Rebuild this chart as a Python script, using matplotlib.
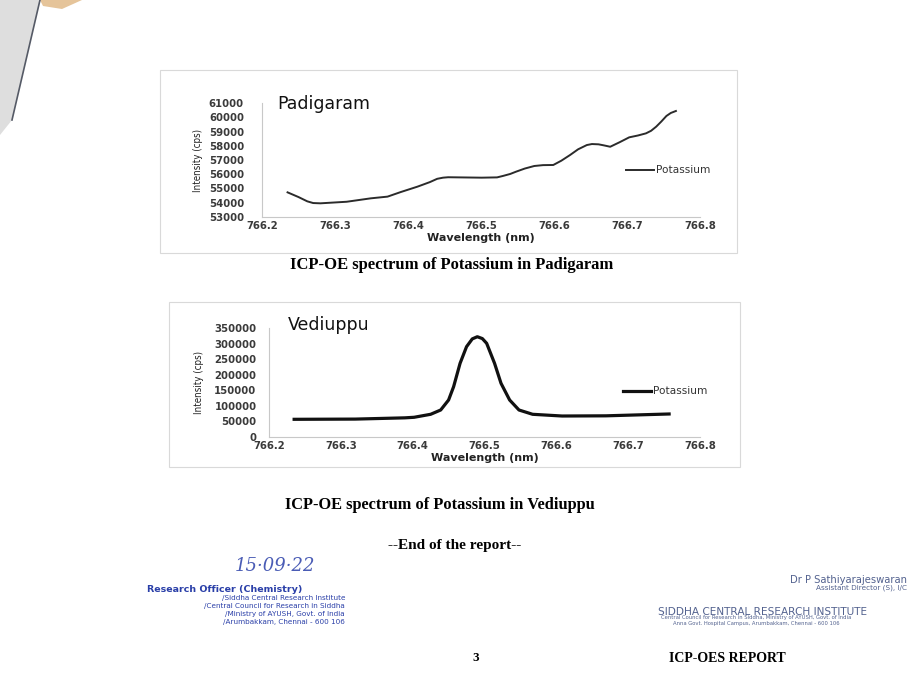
import matplotlib
matplotlib.use('Agg')
import matplotlib.pyplot as plt
from matplotlib.patches import Rectangle, Polygon

# Padigaram spectrum
wl_padigaram = [766.235, 766.25, 766.262, 766.27, 766.28, 766.316, 766.349, 766.372,
                766.39, 766.413, 766.43, 766.44, 766.448, 766.455, 766.501, 766.522,
                766.53, 766.54, 766.548, 766.56, 766.573, 766.585, 766.599, 766.61,
                766.622, 766.633, 766.645, 766.652, 766.661, 766.668, 766.677, 766.69,
                766.703, 766.715, 766.726, 766.733, 766.74, 766.747, 766.754, 766.76,
                766.767]
int_padigaram = [54730, 54400, 54100, 53980, 53960, 54070, 54310, 54430,
                 54750, 55130, 55450, 55680, 55760, 55790, 55760, 55780,
                 55880, 56020, 56180, 56400, 56580, 56640, 56650, 56950,
                 57350, 57750, 58050, 58120, 58100, 58030, 57930, 58250,
                 58590, 58720, 58870, 59050, 59340, 59700, 60090, 60300,
                 60440]

# Vediuppu spectrum
wl_vediuppu = [766.235, 766.32, 766.389, 766.402, 766.425, 766.439, 766.45, 766.457,
               766.466, 766.475, 766.483, 766.49, 766.497, 766.503, 766.514, 766.523,
               766.535, 766.548, 766.567, 766.608, 766.669, 766.757]
int_vediuppu = [56800, 57500, 61500, 63300, 72900, 86700, 118800, 161500,
                236600, 290000, 315000, 322000, 316000, 300800, 236600, 172400,
                118800, 86700, 72900, 67400, 68000, 73900]

x_ticks = [766.2, 766.3, 766.4, 766.5, 766.6, 766.7, 766.8]
y_ticks_padigaram = [53000, 54000, 55000, 56000, 57000, 58000, 59000, 60000, 61000]
y_ticks_vediuppu = [0, 50000, 100000, 150000, 200000, 250000, 300000, 350000]

W, H = 909, 693
fig = plt.figure(figsize=(W / 100, H / 100), dpi=100)
fig.patch.set_facecolor('white')


def box(x0, y0, x1, y1):
    # pixel box (top-left origin) -> figure fraction
    return [x0 / W, 1 - y1 / H, (x1 - x0) / W, (y1 - y0) / H]


def frame(x0, y0, x1, y1):
    fig.patches.append(Rectangle((x0 / W, 1 - y1 / H), (x1 - x0) / W, (y1 - y0) / H,
                                 transform=fig.transFigure, fill=False, ec='#d9d9d9', lw=0.8))


def style_axes(ax, yticks, ylim, ypad, label_x):
    ax.set_xlim(766.2, 766.8)
    ax.set_ylim(*ylim)
    ax.set_xticks(x_ticks)
    ax.set_xticklabels([f'{t:.1f}' for t in x_ticks])
    ax.set_yticks(yticks)
    ax.tick_params(length=0, labelsize=7.3, colors='#3a3a3a')
    ax.tick_params(axis='y', pad=ypad)
    ax.tick_params(axis='x', pad=3)
    for lab in ax.get_xticklabels() + ax.get_yticklabels():
        lab.set_fontweight('bold')
    for s in ['top', 'right']:
        ax.spines[s].set_visible(False)
    for s in ['left', 'bottom']:
        ax.spines[s].set_color('#c8c8c8')
        ax.spines[s].set_linewidth(0.8)
    ax.set_xlabel('Wavelength (nm)', fontsize=8, fontweight='bold', color='#222222', labelpad=1)
    ax.set_ylabel('Intensity (cps)', fontsize=7, color='#222222', fontstretch='condensed')
    ax.yaxis.set_label_coords(label_x, 0.5)
    ax.set_facecolor('none')


# chart area frames
frame(160, 70, 737, 253)
frame(169, 302, 740, 467)

# scanner shadow at the left edge
fig.patches.append(Polygon([(0, 1), (40 / W, 1), (12 / W, 1 - 120 / H), (0, 1 - 135 / H)],
                           closed=True, transform=fig.transFigure, fc='#dedede', ec='none'))
fig.lines.append(plt.Line2D([40 / W, 12 / W], [1, 1 - 120 / H], transform=fig.transFigure,
                            color='#555a66', lw=1.2))
fig.patches.append(Polygon([(40 / W, 1), (82 / W, 1), (62 / W, 1 - 9 / H), (43 / W, 1 - 6 / H)],
                           closed=True, transform=fig.transFigure, fc='#e5c49a', ec='none'))

ax1 = fig.add_axes(box(262, 103, 700, 217))
ax1.plot(wl_padigaram, int_padigaram, color='#2b2b2b', lw=1.4, label='Potassium',
         solid_joinstyle='round')
style_axes(ax1, y_ticks_padigaram, (53000, 61000), 13, -0.135)
ax1.legend(loc='center left', bbox_to_anchor=(0.81, 0.41), frameon=False,
           prop={'size': 7.6}, handlelength=2.6, handletextpad=0.25,
           labelcolor='#333333')
fig.text(277 / W, 1 - 104 / H, 'Padigaram', fontsize=12.5, color='#111111', va='center')

ax2 = fig.add_axes(box(269, 328, 700, 437))
ax2.plot(wl_vediuppu, int_vediuppu, color='#111111', lw=2.3, label='Potassium',
         solid_joinstyle='round')
style_axes(ax2, y_ticks_vediuppu, (0, 350000), 9, -0.15)
ax2.legend(loc='center left', bbox_to_anchor=(0.8, 0.42), frameon=False,
           prop={'size': 7.6}, handlelength=2.6, handletextpad=0.25,
           labelcolor='#333333')
fig.text(288 / W, 1 - 325 / H, 'Vediuppu', fontsize=12.5, color='#111111', va='center')

serif = 'Liberation Serif'
fig.text(452 / W, 1 - 265 / H, 'ICP-OE spectrum of Potassium in Padigaram',
         family=serif, fontweight='bold', fontsize=12, ha='center', va='center')
fig.text(440 / W, 1 - 505 / H, 'ICP-OE spectrum of Potassium in Vediuppu',
         family=serif, fontweight='bold', fontsize=11.8, ha='center', va='center')
fig.text(455 / W, 1 - 546 / H, '--End of the report--',
         family=serif, fontweight='bold', fontsize=11, ha='center', va='center')
fig.text(476 / W, 1 - 658 / H, '3', family=serif, fontweight='bold', fontsize=9.5,
         ha='center', va='center')
fig.text(727 / W, 1 - 658 / H, 'ICP-OES REPORT', family=serif, fontweight='bold',
         fontsize=10, ha='center', va='center')

# left stamp (English parts of the stamp lines)
blue = '#2a3fa8'
fig.text(225 / W, 1 - 590 / H, 'Research Officer (Chemistry)', color=blue, fontsize=6.8,
         fontweight='bold', ha='center', va='center')
left_lines = [('/Siddha Central Research Institute', 598),
              ('/Central Council for Research in Siddha', 606),
              ('/Ministry of AYUSH, Govt. of India', 614),
              ('/Arumbakkam, Chennai - 600 106', 622)]
for txt, yy in left_lines:
    fig.text(345 / W, 1 - yy / H, txt, color=blue, fontsize=5.2, ha='right', va='center')
fig.text(275 / W, 1 - 566 / H, '15·09·22', color=blue, fontsize=13, style='italic',
         ha='center', va='center', family='DejaVu Serif', alpha=0.85)

# right stamp (English parts)
grey_blue = '#53628f'
fig.text(907 / W, 1 - 580 / H, 'Dr P Sathiyarajeswaran', color=grey_blue, fontsize=7.2,
         ha='right', va='center')
fig.text(907 / W, 1 - 588 / H, 'Assistant Director (S), I/C', color=grey_blue, fontsize=5.2,
         ha='right', va='center')
fig.text(763 / W, 1 - 612 / H, 'SIDDHA CENTRAL RESEARCH INSTITUTE', color=grey_blue,
         fontsize=7.6, ha='center', va='center')
fig.text(756 / W, 1 - 618 / H,
         'Central Council for Research in Siddha, Ministry of AYUSH, Govt. of India',
         color=grey_blue, fontsize=3.8, ha='center', va='center')
fig.text(756 / W, 1 - 624 / H,
         'Anna Govt. Hospital Campus, Arumbakkam, Chennai - 600 106',
         color=grey_blue, fontsize=3.8, ha='center', va='center')

fig.savefig('out.png', dpi=100, facecolor='white')
